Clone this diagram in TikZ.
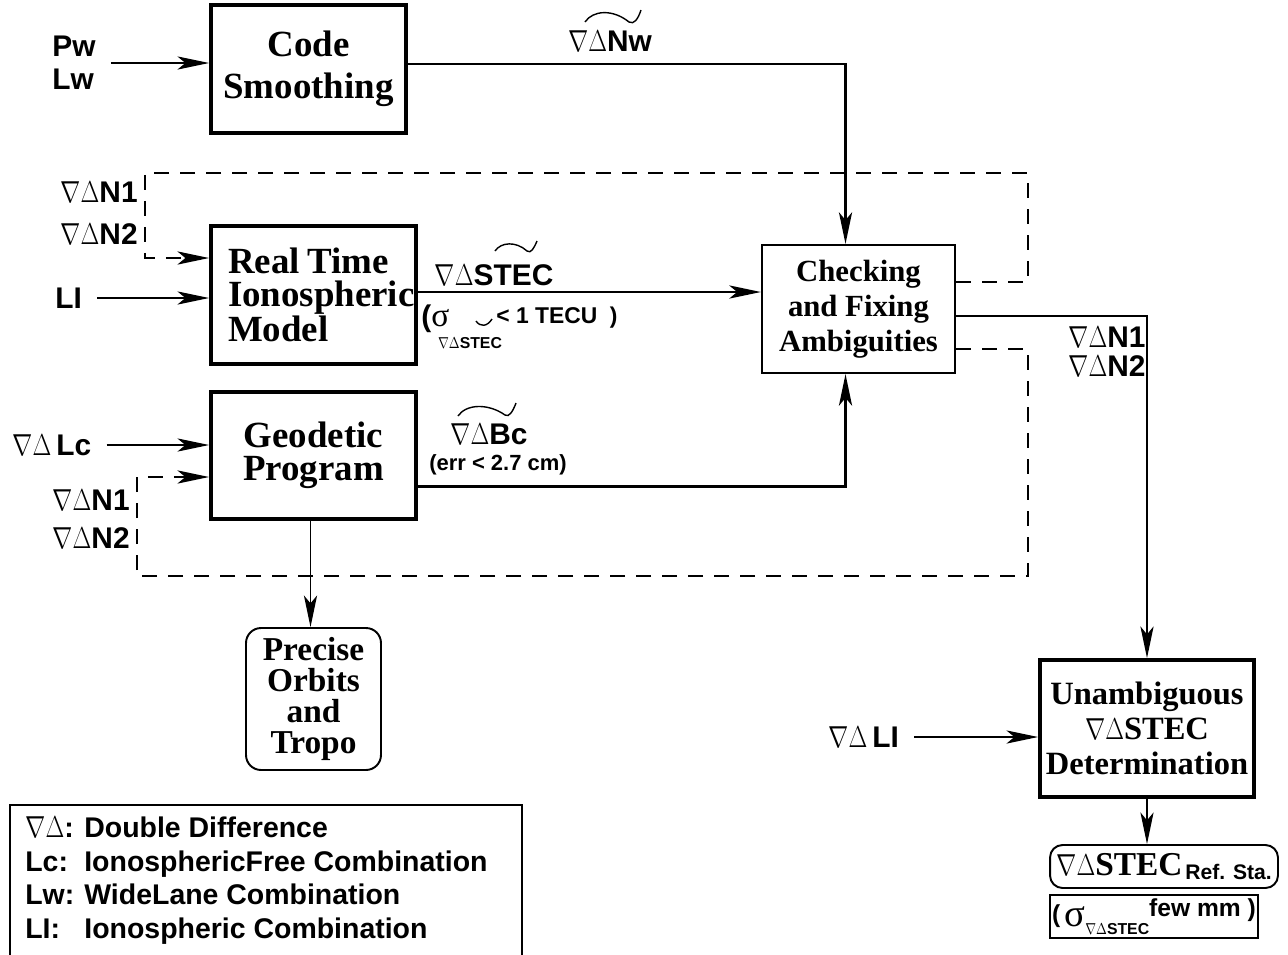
\documentclass[tikz,border=0pt]{standalone}
\usepackage{fontspec}
\setmainfont{Liberation Serif}
\setsansfont{Liberation Sans}
\usepackage{graphicx}
\usetikzlibrary{arrows.meta,positioning,calc}

\newcommand{\nd}{\scalebox{0.8}[1]{$\nabla\Delta$}}

\begin{document}
\begin{tikzpicture}[
  x=0.02cm, y=-0.02cm,
  >={Stealth[length=18pt,width=7.5pt,inset=4.5pt]},
  blk/.style={draw, line width=2.2pt, inner sep=0pt, align=center, font=\bfseries\fontsize{21}{19}\selectfont},
  chk/.style={draw, line width=1.3pt, inner sep=0pt, align=center, font=\bfseries\fontsize{17.5}{20}\selectfont},
  rbox/.style={draw, line width=1.1pt, rounded corners=0.3cm, inner sep=0pt, align=center},
  lbl/.style={inner sep=0pt, font=\sffamily\bfseries\fontsize{17}{18.7}\selectfont},
  flow/.style={->, line width=1.3pt},
  feed/.style={->, line width=0.7pt, shorten <=0.3cm},
  loopback/.style={->, line width=1.2pt, dash pattern=on 0.3cm off 0.22cm},
  tld/.style={line width=0.8pt}
]
\useasboundingbox (0,0) rectangle (1288,954);

% processing boxes
\node[blk, minimum width=3.9cm, minimum height=2.56cm, font=\bfseries\fontsize{21}{24}\selectfont] (code) at (308.5,69) {Code\\Smoothing};
\node[blk, minimum width=4.1cm, minimum height=2.76cm, align=left, text width=3.42cm, inner xsep=0.34cm] (rtim) at (313.5,295) {Real\hspace{0.16cm}Time\\Ionospheric\\Model};
\node[blk, minimum width=4.1cm, minimum height=2.54cm] (geod) at (313.5,455.5) {Geodetic\\Program};
\node[chk, minimum width=3.86cm, minimum height=2.56cm] (check) at (858.5,309) {Checking\\and Fixing\\Ambiguities};
\node[rbox, minimum width=2.7cm, minimum height=2.84cm, font=\bfseries\fontsize{19}{17.6}\selectfont] (prec) at (313.5,699) {Precise\\Orbits\\and\\Tropo};
\node[blk, minimum width=4.28cm, minimum height=2.74cm, font=\bfseries\fontsize{18.5}{20}\selectfont] (unamb) at (1147,728.5) {Unambiguous\\\nd STEC\\Determination};
\node[rbox, rounded corners=0.25cm, minimum width=4.56cm, minimum height=0.86cm] (ref) at (1164,866.5) {{\bfseries\fontsize{19}{20}\selectfont\nd STEC}\,\raisebox{-0.6ex}{\sffamily\bfseries\fontsize{12}{14}\selectfont Ref. Sta.}};
\node[draw, line width=1.1pt, minimum width=4.16cm, minimum height=0.86cm, inner sep=0pt] (fewmm) at (1154,916.5) {\sffamily\bfseries\fontsize{14}{16}\selectfont (\,\raisebox{-0.3ex}{\rmfamily\mdseries\fontsize{22}{22}\selectfont σ}\raisebox{-0.9ex}{\fontsize{9}{10}\selectfont\nd STEC}\raisebox{0.5ex}{few mm )}};

% inputs and labels
\node[lbl, align=left, anchor=west] (pwlw) at (52,63) {Pw\\Lw};
\node[lbl, anchor=west] (li) at (55,298) {LI};
\node[lbl, align=right, anchor=east, font=\sffamily\bfseries\fontsize{17}{23.8}\selectfont] (nta) at (138,213) {\nd N1\\\nd N2};
\node[lbl, anchor=west] (lc) at (12,445) {\nd\,Lc};
\node[lbl, align=right, anchor=east, font=\sffamily\bfseries\fontsize{17}{21.5}\selectfont] (ntb) at (130,519) {\nd N1\\\nd N2};
\node[lbl, anchor=west] (dli) at (828,737) {\nd\,LI};
\node[lbl, align=left, anchor=west, font=\sffamily\bfseries\fontsize{17}{16.4}\selectfont] (ntc) at (1068,352) {\nd N1\\\nd N2};
\node[lbl] (nw) at (610,41) {\nd Nw};
\node[lbl] (stec) at (494,275) {\nd STEC};
\node[lbl] (bc) at (489,434) {\nd Bc};
\node[lbl, font=\sffamily\bfseries\fontsize{12.5}{14}\selectfont] (err) at (498,465) {(err < 2.7 cm)};
\node[lbl, anchor=west] (sig) at (421,319) {({\rmfamily\mdseries\fontsize{19}{19}\selectfont σ}};
\node[lbl, font=\sffamily\bfseries\fontsize{9}{10}\selectfont] (sigsub) at (470,343) {\nd STEC};
\node[lbl, anchor=west, font=\sffamily\bfseries\fontsize{13}{15}\selectfont] (tecu) at (496,318) {< 1 TECU\ \ )};

% tildes over the estimates
\draw[tld] (585,22) .. controls (593,10) and (613,9) .. (629,22) .. controls (634,25) and (638,19) .. (641,10);
\draw[tld] (495,251) .. controls (501,242) and (516,241) .. (527,251) .. controls (531,254) and (534,248) .. (537,241);
\draw[tld] (458,416) .. controls (466,404) and (488,403) .. (505,415) .. controls (509,418) and (513,411) .. (516,403);
\draw[tld] (476,321) .. controls (480,327) and (487,327) .. (492,319);

% connectors
\draw[feed] (pwlw.east) -- (pwlw.east -| code.west);
\draw[feed] (li.east) -- (li.east -| rtim.west);
\draw[feed] (lc.east) -- (lc.east -| geod.west);
\draw[feed] (dli.east) -- (dli.east -| unamb.west);
\draw[flow] ([yshift=0.1cm]code.east) -| ([xshift=-0.26cm]check.north);
\draw[flow] ([yshift=0.06cm]rtim.east) -- ([yshift=0.06cm]rtim.east -| check.west);
\draw[flow] ([yshift=-0.62cm]geod.east) -| ([xshift=-0.26cm]check.south);
\draw[flow] ([yshift=-0.14cm]check.east) -| (unamb.north);
\draw[feed, shorten <=0pt] ([xshift=-0.06cm]geod.south) -- ([xshift=-0.06cm]geod.south |- prec.north);
\draw[feed, shorten <=0pt] (unamb.south) -- (unamb.south |- ref.north);

% ambiguity feedback
\coordinate (ctr) at (1028,173);
\coordinate (ctl) at (145,173);
\coordinate (cbr) at (1028,576);
\coordinate (cbl) at (137,576);
\draw[loopback] ([yshift=0.54cm]check.east) -| (ctr) -- (ctl) |- ([yshift=0.74cm]rtim.west);
\draw[loopback] ([yshift=-0.8cm]check.east) -| (cbr) -- (cbl) |- ([yshift=-0.43cm]geod.west);

% legend
\node[anchor=north west, inner sep=0pt, font=\sffamily\bfseries\fontsize{16.2}{19.1}\selectfont] (lgd) at (25,814) {\begin{tabular}{@{}l@{\hspace{0.2cm}}l@{}}
\nd: & Double Difference\\
Lc: & IonosphericFree Combination\\
Lw: & WideLane Combination\\
LI: & Ionospheric Combination
\end{tabular}};
\draw[line width=0.6pt] (10,960) |- (522,805) -- (522,960);
\end{tikzpicture}
\end{document}
